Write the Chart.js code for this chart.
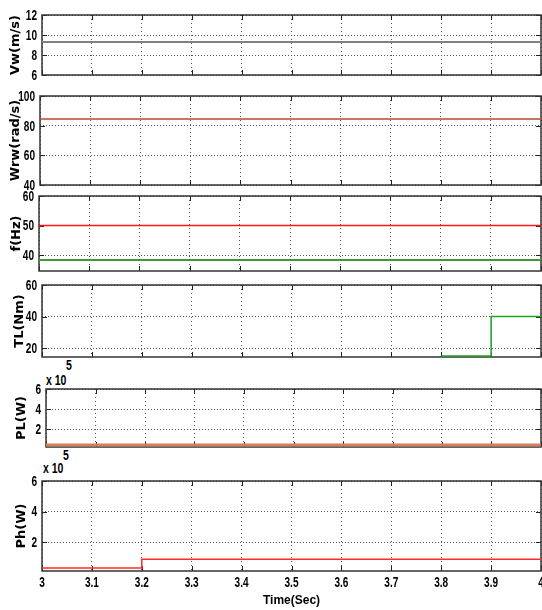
<!DOCTYPE html>
<html>
<head>
<meta charset="utf-8">
<script src="https://cdn.jsdelivr.net/npm/chart.js@4.4.1/dist/chart.umd.min.js"></script>
<style>
  body { margin: 0; background: #fff; }
  #page { position: relative; width: 542px; height: 610px; overflow: hidden; background: #fff; }
  #page canvas { position: absolute; left: 0; }
  .exp { position: absolute; line-height: 14px; color: #000; transform: scaleX(0.75); transform-origin: 0 0;
         font: bold 14px "Liberation Sans", Arial, sans-serif; }
</style>
</head>
<body>
<div id="page">
  <span class="exp" style="left:66px;top:357px">5</span>
  <span class="exp" style="left:46px;top:372px">x 10</span>
  <span class="exp" style="left:63px;top:447px">5</span>
  <span class="exp" style="left:43px;top:460px">x 10</span>
</div>
<script>
// time axis
const timeTicks = [3, 3.1, 3.2, 3.3, 3.4, 3.5, 3.6, 3.7, 3.8, 3.9, 4];
const timeSpan = [3, 4];

// wind speed
const vwTicks = [6, 8, 10, 12];
const vwValues = [9.3, 9.3];

// rotor speed
const wrwTicks = [40, 60, 80, 100];
const wrwValues = [84.5, 84.5];

// frequency
const fTicks = [40, 50, 60];
const fRefValues = [50, 50];
const fValues = [38.3, 38.3];

// load torque
const tlTicks = [20, 40, 60];
const tlTime = [3.8, 3.9, 3.9, 4];
const tlValues = [15, 15, 40, 40];

// load power (x 10^5)
const plTicks = [2, 4, 6];
const plValues = [0.4, 0.4];

// Ph (x 10^5)
const phTicks = [2, 4, 6];
const phTime = [3, 3.2, 3.2, 4];
const phValues = [0.3, 0.3, 0.87, 0.87];

const titleFont = { family: '"DejaVu Sans", sans-serif', size: 13, weight: 'bold' };

const panels = [
  { top: 15, bottom: 75, left: 42, titleX: 16, title: 'Vw(m/s)', min: 6, max: 12, ticks: vwTicks,
    series: [{ x: timeSpan, y: vwValues, color: '#808080', width: 2 }] },
  { top: 96, bottom: 185, left: 40, titleX: 16, title: 'Wrw(rad/s)', min: 40, max: 100, ticks: wrwTicks,
    series: [{ x: timeSpan, y: wrwValues, color: '#b9482a', width: 1.5 }] },
  { top: 196, bottom: 271, left: 39, titleX: 17, title: 'f(Hz)', min: 34.6, max: 60, ticks: fTicks,
    series: [{ x: timeSpan, y: fRefValues, color: '#ff1a1a', width: 1.5 },
             { x: timeSpan, y: fValues, color: '#3a9a3a', width: 2 }] },
  { top: 285, bottom: 357, left: 42, titleX: 20, title: 'TL(Nm)', min: 14.3, max: 60, ticks: tlTicks,
    series: [{ x: tlTime, y: tlValues, color: '#22a022', width: 1.5 }] },
  { top: 389, bottom: 447, left: 46, titleX: 22, title: 'PL(W)', min: 0.2, max: 6, ticks: plTicks,
    series: [{ x: timeSpan, y: plValues, color: '#d0805c', width: 3 }] },
  { top: 481, bottom: 571, left: 42, titleX: 22, title: 'Ph(W)', min: 0.1, max: 6, ticks: phTicks,
    series: [{ x: phTime, y: phValues, color: '#ff2a2a', width: 1.5 }], last: true }
];

// MATLAB style box with inward ticks, drawn under the lines
const boxPlugin = {
  id: 'matlabBox',
  beforeDatasetsDraw(chart) {
    const { ctx, chartArea: a, scales: { x, y } } = chart;
    ctx.save();
    ctx.strokeStyle = '#222';
    ctx.lineWidth = 1;
    ctx.beginPath();
    y.ticks.forEach(t => {
      const py = Math.round(y.getPixelForValue(t.value)) + 0.5;
      ctx.moveTo(a.left, py); ctx.lineTo(a.left + 5, py);
      ctx.moveTo(a.right, py); ctx.lineTo(a.right - 5, py);
    });
    x.ticks.forEach(t => {
      const px = Math.round(x.getPixelForValue(t.value)) + 0.5;
      ctx.moveTo(px, a.top); ctx.lineTo(px, a.top + 5);
      ctx.moveTo(px, a.bottom); ctx.lineTo(px, a.bottom - 5);
    });
    ctx.stroke();
    ctx.strokeStyle = '#333';
    ctx.lineWidth = 1.5;
    ctx.strokeRect(a.left, a.top, a.right - a.left, a.bottom - a.top);
    ctx.restore();
  }
};

// narrow bold tick labels like the old matlab export
const labelPlugin = {
  id: 'narrowLabels',
  afterDraw(chart, args, opts) {
    const { ctx, chartArea: a, scales: { x, y } } = chart;
    const put = (text, px, py, align, baseline) => {
      ctx.save();
      ctx.translate(px, py);
      ctx.scale(0.72, 1);
      ctx.fillStyle = '#000';
      ctx.font = 'bold 14px "Liberation Sans", Arial, sans-serif';
      ctx.textAlign = align;
      ctx.textBaseline = baseline;
      ctx.fillText(text, 0, 0);
      ctx.restore();
    };
    y.ticks.forEach(t => put(String(t.value), a.left - 5, y.getPixelForValue(t.value) + 1, 'right', 'middle'));
    if (opts.showX) {
      x.ticks.forEach(t => put(String(Math.round(t.value * 10) / 10), x.getPixelForValue(t.value), a.bottom + 12, 'center', 'middle'));
    }
  }
};

const page = document.getElementById('page');

panels.forEach(p => {
  const xHeight = p.last ? 39 : 0;
  const canvasTop = p.top - 10;
  const canvasHeight = p.last ? 610 - canvasTop : (p.bottom - p.top) + 20;
  const canvas = document.createElement('canvas');
  canvas.width = 542;
  canvas.height = canvasHeight;
  canvas.style.top = canvasTop + 'px';
  page.appendChild(canvas);

  const datasets = p.series.map(s => ({
    data: s.x.map((t, i) => ({ x: t, y: s.y[i] })),
    borderColor: s.color,
    borderWidth: s.width,
    pointRadius: 0,
    tension: 0,
    fill: false
  }));

  new Chart(canvas, {
    type: 'line',
    data: { datasets },
    plugins: [boxPlugin, labelPlugin],
    options: {
      responsive: false,
      animation: false,
      layout: { padding: { top: 10, bottom: p.last ? 0 : 10, left: 0, right: 1 } },
      plugins: {
        legend: { display: false },
        tooltip: { enabled: false },
        narrowLabels: { showX: !!p.last }
      },
      scales: {
        x: {
          type: 'linear',
          min: 3,
          max: 4,
          afterBuildTicks: s => { s.ticks = timeTicks.map(v => ({ value: v })); },
          afterFit: s => { s.height = xHeight; s.paddingLeft = 0; s.paddingRight = 0; },
          grid: { color: '#555', lineWidth: 1, drawTicks: false },
          border: { display: false, dash: [1, 3] },
          ticks: { display: false },
          title: {
            display: !!p.last,
            text: 'Time(Sec)',
            color: '#000',
            font: { family: '"Liberation Sans", Arial, sans-serif', size: 12, weight: 'bold' },
            padding: { top: 0, bottom: 2 }
          }
        },
        y: {
          min: p.min,
          max: p.max,
          afterBuildTicks: s => { s.ticks = p.ticks.map(v => ({ value: v })); },
          afterFit: s => { s.width = p.left; },
          grid: { color: '#555', lineWidth: 1, drawTicks: false },
          border: { display: false, dash: [1, 2] },
          ticks: { display: false },
          title: {
            display: true,
            text: p.title,
            color: '#000',
            font: titleFont,
            padding: { top: p.titleX - 8, bottom: 0 }
          }
        }
      }
    }
  });
});
</script>
</body>
</html>
